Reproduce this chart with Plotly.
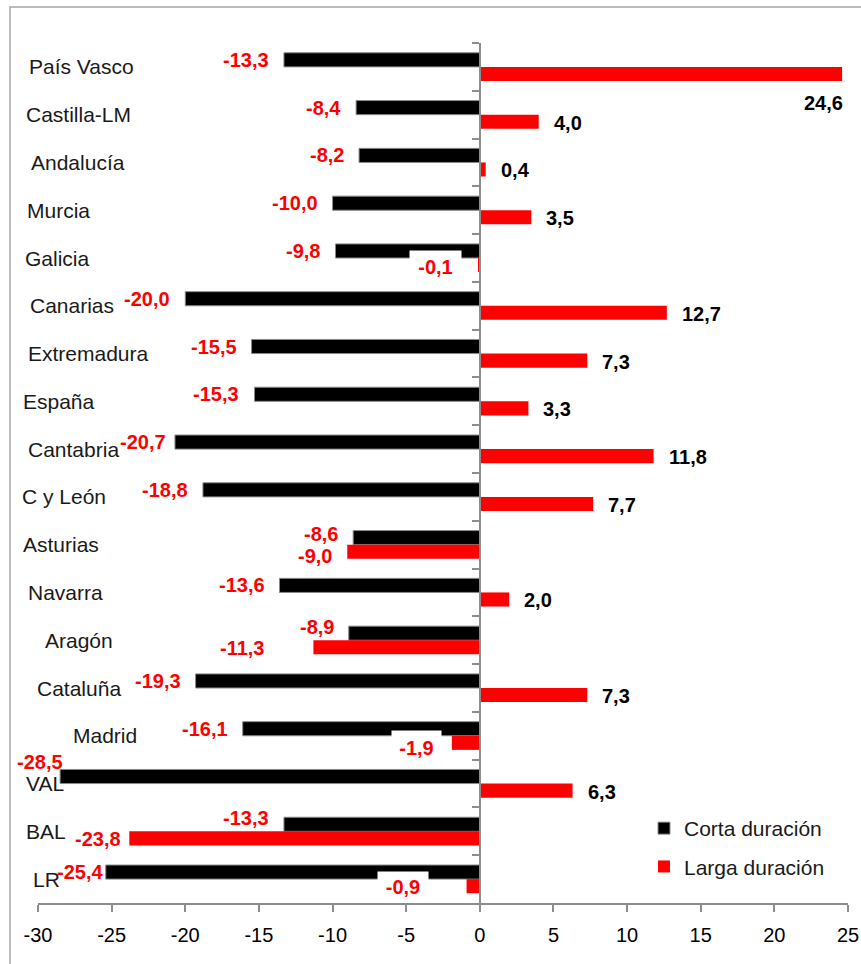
import plotly.graph_objects as go

# ---------------- data ----------------
categories = ["País Vasco", "Castilla-LM", "Andalucía", "Murcia", "Galicia", "Canarias",
              "Extremadura", "España", "Cantabria", "C y León", "Asturias", "Navarra",
              "Aragón", "Cataluña", "Madrid", "VAL", "BAL", "LR"]
corta = [-13.3, -8.4, -8.2, -10.0, -9.8, -20.0, -15.5, -15.3, -20.7, -18.8,
         -8.6, -13.6, -8.9, -19.3, -16.1, -28.5, -13.3, -25.4]
larga = [24.6, 4.0, 0.4, 3.5, -0.1, 12.7, 7.3, 3.3, 11.8, 7.7,
         -9.0, 2.0, -11.3, 7.3, -1.9, 6.3, -23.8, -0.9]
series_names = ["Corta duración", "Larga duración"]
x_ticks = [-30, -25, -20, -15, -10, -5, 0, 5, 10, 15, 20, 25]

# ---------------- layout constants ----------------
W, H = 861, 964
ML, MT = 38, 43
PW, PH = 810, 860
MR, MB = W - ML - PW, H - MT - PH
XMIN, XMAX = -30, 25
FONT = "Liberation Sans, Arial, sans-serif"
AXIS_COLOR = "#8c8c8c"


def px_to_paper_x(px):
    return (px - ML) / PW


def py_to_paper_y(py):
    return 1 - (py - MT) / PH


# left edge (pixels) of each category label
label_left_px = [27, 24, 29, 25, 23, 28, 26, 21, 26, 20, 21, 26, 43, 35, 71, 24, 24, 31]

# label placement tweaks: (series index, category) -> dict
overrides = {
    (1, "País Vasco"): dict(xanchor="right", xshift=3, yshift=-36),
    (0, "Cantabria"): dict(xshift=-7),
    (0, "Asturias"): dict(yshift=11),
    (1, "Asturias"): dict(yshift=-11),
    (0, "Aragón"): dict(yshift=13),
    (1, "Aragón"): dict(xshift=-47),
    (0, "VAL"): dict(xshift=5, yshift=22),
    (0, "BAL"): dict(yshift=13),
    (1, "BAL"): dict(xshift=-6),
    (0, "LR"): dict(xshift=-1),
    (1, "Galicia"): dict(xshift=-16, yshift=-9, bgcolor="white", width=49, height=30),
    (1, "Madrid"): dict(xshift=-10, yshift=-12, bgcolor="white", width=47, height=32),
    (1, "LR"): dict(xshift=-38, yshift=-8, bgcolor="white", width=48, height=28),
}

fig = go.Figure()
fig.add_trace(go.Bar(y=categories, x=corta, orientation="h", name=series_names[0],
                     marker=dict(color="#000000", line=dict(color="#8a8a8a", width=1)),
                     legendgroup="a"))
fig.add_trace(go.Bar(y=categories, x=larga, orientation="h", name=series_names[1],
                     marker=dict(color="#FF0000", line=dict(width=0)),
                     legendgroup="b"))

annotations = []
# value labels
for si, vals in enumerate([corta, larga]):
    for cat, v in zip(categories, vals):
        txt = "<b>" + f"{v:.1f}".replace(".", ",") + "</b>"
        a = dict(x=v, y=cat, xref="x", yref="y", text=txt, showarrow=False,
                 font=dict(family=FONT, size=20, color="#FF0000" if v < 0 else "#000000"),
                 xanchor="right" if v < 0 else "left",
                 xshift=-13 if v < 0 else 13,
                 yshift=7 if si == 0 else -8)
        a.update(overrides.get((si, cat), {}))
        if "bgcolor" in a:
            a["align"] = "center"
        annotations.append(a)

# category labels
for cat, px in zip(categories, label_left_px):
    annotations.append(dict(x=px_to_paper_x(px), y=cat, xref="paper", yref="y", text=cat,
                            showarrow=False, xanchor="left", yanchor="middle",
                            font=dict(family=FONT, size=21, color="#1a1a1a")))

fig.update_layout(
    width=W, height=H, autosize=False,
    margin=dict(l=ML, r=MR, t=MT, b=MB, pad=0, autoexpand=False),
    paper_bgcolor="white", plot_bgcolor="white",
    barmode="group", bargap=0.41, bargroupgap=0,
    font=dict(family=FONT, size=20, color="#000000"),
    annotations=annotations,
    showlegend=True,
    legend=dict(x=px_to_paper_x(644), xanchor="left", y=py_to_paper_y(808), yanchor="top",
                bgcolor="rgba(0,0,0,0)", borderwidth=0, traceorder="grouped",
                tracegroupgap=8, font=dict(family=FONT, size=21, color="#1a1a1a")),
    xaxis=dict(range=[XMIN, XMAX], tickmode="array", tickvals=x_ticks,
               ticktext=[str(t) for t in x_ticks], automargin=False,
               showgrid=False, zeroline=False, showline=True, linecolor=AXIS_COLOR,
               linewidth=1.5, ticks="outside", ticklen=7, tickwidth=1.5,
               tickcolor=AXIS_COLOR, ticklabelstandoff=6, ticklabeloverflow="allow",
               tickfont=dict(family=FONT, size=20, color="#000000")),
    yaxis=dict(type="category", range=[len(categories) - 0.5, -0.5], automargin=False,
               anchor="free", position=(0 - XMIN) / (XMAX - XMIN),
               showgrid=False, zeroline=False, showline=True, linecolor=AXIS_COLOR,
               linewidth=1.5, ticks="outside", ticklen=7, tickwidth=1.5,
               tickcolor=AXIS_COLOR, tickson="boundaries", showticklabels=False),
    shapes=[dict(type="rect", xref="paper", yref="paper",
                 x0=px_to_paper_x(10), x1=1.2, y0=-0.2, y1=py_to_paper_y(7),
                 line=dict(color="#a6a6a6", width=1.5), fillcolor="rgba(0,0,0,0)",
                 layer="below")],
)

fig.write_html("out.html", config={"displayModeBar": False},
               post_script="document.body.style.margin='0';document.body.style.overflow='hidden';")
